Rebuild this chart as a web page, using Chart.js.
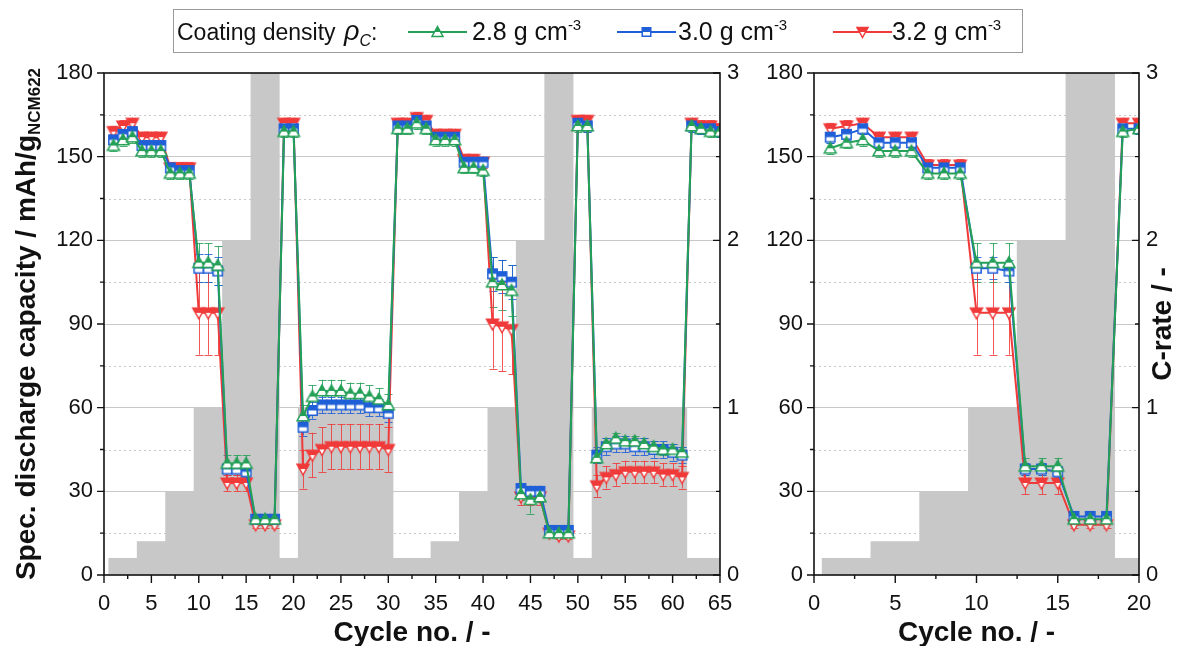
<!DOCTYPE html>
<html><head><meta charset="utf-8">
<script src="https://cdn.jsdelivr.net/npm/chart.js@4.4.0/dist/chart.umd.min.js"></script>
<style>
html,body{margin:0;padding:0;background:#fff;}
body{width:1177px;height:646px;position:relative;overflow:hidden;font-family:"Liberation Sans",Arial,sans-serif;color:#111;}
#c1{position:absolute;left:0;top:0;}
#c2{position:absolute;left:750px;top:0;}
#lgbox{position:absolute;left:173px;top:9px;width:850px;height:44px;border:1px solid #9a9a9a;box-sizing:border-box;}
.lt{position:absolute;top:19px;font-size:25px;line-height:25px;white-space:nowrap;}
.lt.first{font-size:23px;line-height:23px;top:20px;}
.lt sup{font-size:15px;vertical-align:10px;line-height:0;}
.lt sub{font-size:16px;vertical-align:-6px;line-height:0;}
.lt i.rho{font-size:27px;margin-left:2px;}
canvas.mk{position:absolute;top:24px;}
</style></head>
<body>
<canvas id="c1" width="750" height="646"></canvas>
<canvas id="c2" width="427" height="646"></canvas>
<div id="lgbox"></div>
<span class="lt first" style="left:177px">Coating density <i class="rho">ρ</i><sub><i>C</i></sub>:</span>
<canvas class="mk" id="mk1" width="59" height="16" style="left:408px"></canvas>
<span class="lt" style="left:472px">2.8 g cm<sup>-3</sup></span>
<canvas class="mk" id="mk2" width="59" height="16" style="left:617px"></canvas>
<span class="lt" style="left:678px">3.0 g cm<sup>-3</sup></span>
<canvas class="mk" id="mk3" width="59" height="16" style="left:833px"></canvas>
<span class="lt" style="left:892px">3.2 g cm<sup>-3</sup></span>
<script>
// ---------------- DATA ----------------
const seriesNames = ['2.8 g cm-3', '3.0 g cm-3', '3.2 g cm-3'];

const cyclesL = [1,2,3,4,5,6,7,8,9,10,11,12,13,14,15,16,17,18,19,20,21,22,23,24,25,26,27,28,29,30,
  31,32,33,34,35,36,37,38,39,40,41,42,43,44,45,46,47,48,49,50,51,52,53,54,55,56,57,58,59,60,61,62,63,64,65];
const crateL = [0.1,0.1,0.1, 0.2,0.2,0.2, 0.5,0.5,0.5, 1,1,1, 2,2,2, 3,3,3, 0.1,0.1, 1,1,1,1,1,1,1,1,1,1,
  0.1,0.1,0.1,0.1, 0.2,0.2,0.2, 0.5,0.5,0.5, 1,1,1, 2,2,2, 3,3,3, 0.1,0.1, 1,1,1,1,1,1,1,1,1,1, 0.1,0.1,0.1,0.1];
const capL28 = [154,156,157, 152,152,152, 144,144,144, 112,112,111, 40,40,40, 20,20,20, 159,159,
  57,64,66,66,66,65,65,64,63,61, 160,160,162,160, 156,156,156, 146,146,145, 105,104,102, 29,27,28,
  15,15,15, 161,161, 42,47,49,48,48,47,46,45,45,44, 161,160,159,159];
const capL30 = [156,158,159, 154,154,154, 146,145,145, 110,110,109, 38,38,37, 20,20,20, 160,160,
  53,59,61,61,61,61,61,60,60,58, 161,161,163,161, 157,157,157, 148,148,148, 108,107,105, 31,30,30,
  16,16,16, 162,161, 43,46,47,47,46,46,45,45,44,43, 161,160,160,159];
const capL32 = [159,161,162, 157,157,157, 146,146,146, 94,94,94, 33,33,33, 18,18,18, 162,162,
  38,43,45,46,46,46,46,46,46,45, 162,162,164,163, 158,158,158, 149,149,148, 90,89,88, 28,28,28,
  15,14,14, 163,163, 32,35,36,37,37,37,37,36,36,35, 162,161,161,160];
const errL28 = [2,2,2, 2,2,2, 2,2,2, 7,7,7, 3,3,3, 1,1,1, 2,2, 4,4,4,4,4,4,4,4,4,4, 2,2,2,2, 2,2,2, 2,2,2,
  9,9,9, 2,5,2, 1,1,1, 2,2, 2,2,2,2,2,2,2,2,2,2, 2,2,2,2];
const errL30 = [2,2,2, 2,2,2, 2,2,2, 5,5,5, 2,2,2, 1,1,1, 2,2, 3,3,3,3,3,3,3,3,3,3, 2,2,2,2, 2,2,2, 2,2,2,
  6,6,6, 2,2,2, 1,1,1, 2,2, 3,3,3,3,3,3,3,3,3,3, 2,2,2,2];
const errL32 = [2,2,2, 2,2,2, 2,2,2, 15,15,15, 3,3,3, 1,1,1, 2,2, 7,8,8,8,8,8,8,8,8,8, 2,2,2,2, 2,2,2, 2,2,2,
  16,16,16, 3,3,3, 1,1,1, 2,2, 4,4,4,4,4,4,4,4,4,4, 2,2,2,2];

const cyclesR = [1,2,3,4,5,6,7,8,9,10,11,12,13,14,15,16,17,18,19,20];
const crateR = [0.1,0.1,0.1,0.2,0.2,0.2,0.5,0.5,0.5,1,1,1,2,2,2,3,3,3,0.1,0.1];
const capR28 = [153,155,156,152,152,152,144,144,144,112,112,112,39,39,39,20,20,20,159,160];
const capR30 = [157,158,160,155,155,155,146,146,146,110,110,109,38,38,37,21,21,21,160,160];
const capR32 = [160,161,162,157,157,157,147,147,147,94,94,94,33,33,33,18,18,18,162,162];
const errR28 = [2,2,2,2,2,2,2,2,2,7,7,7,3,3,3,1,1,1,2,2];
const errR30 = [2,2,2,2,2,2,2,2,2,4,4,4,2,2,2,1,1,1,2,2];
const errR32 = [2,2,2,2,2,2,2,2,2,15,15,15,4,4,4,1,1,1,2,2];

// ---------------- STYLE ----------------
const COL = {g:'#24a057', b:'#1f5fd8', r:'#f03a3a'};
const GREY = '#c8c8c8';
const FONT = "'Liberation Sans', Arial, sans-serif";
Chart.defaults.font.family = FONT;
Chart.defaults.color = '#111';

function drawMarkerShape(g, shape, color, cx, cy, size) {
  const r = size / 2;
  g.beginPath();
  if (shape === 'up') { g.moveTo(cx, cy - r); g.lineTo(cx + r, cy + r * 0.8); g.lineTo(cx - r, cy + r * 0.8); g.closePath(); }
  else if (shape === 'down') { g.moveTo(cx, cy + r); g.lineTo(cx + r, cy - r * 0.8); g.lineTo(cx - r, cy - r * 0.8); g.closePath(); }
  else { const h = r * 0.85; g.rect(cx - h, cy - h, 2 * h, 2 * h); }
  g.fillStyle = '#fff'; g.fill();
  g.save(); g.clip(); g.fillStyle = color; g.fillRect(cx - size, cy - size, 2 * size, size); g.restore();
  g.lineWidth = 1.5; g.strokeStyle = color; g.stroke();
}
function makeMarker(shape, color, size) {
  const c = document.createElement('canvas');
  const s = size + 4; c.width = s; c.height = s;
  drawMarkerShape(c.getContext('2d'), shape, color, s / 2, s / 2, size);
  return c;
}
const MK = {
  g: makeMarker('up', COL.g, 12),
  b: makeMarker('sq', COL.b, 11),
  r: makeMarker('down', COL.r, 12)
};
// legend icons
[['mk1','up',COL.g],['mk2','sq',COL.b],['mk3','down',COL.r]].forEach(([id, sh, c]) => {
  const cv = document.getElementById(id); const g = cv.getContext('2d');
  g.strokeStyle = c; g.lineWidth = 2; g.beginPath(); g.moveTo(0, 8); g.lineTo(59, 8); g.stroke();
  drawMarkerShape(g, sh, c, 29.5, 8, sh === 'sq' ? 10 : 11);
});

const framePlugin = {
  id: 'frame',
  beforeDatasetsDraw(chart) {
    const {ctx, chartArea: a, scales: {y}} = chart;
    ctx.save();
    ctx.strokeStyle = GREY; ctx.lineWidth = 1; ctx.setLineDash([2, 3]);
    for (let v = 15; v < 180; v += 30) {
      const py = Math.round(y.getPixelForValue(v)) + 0.5;
      ctx.beginPath(); ctx.moveTo(a.left, py); ctx.lineTo(a.right, py); ctx.stroke();
    }
    ctx.restore();
  },
  afterDatasetDraw(chart, args, opts) {
    if (args.index !== 0) return;
    const {ctx, chartArea: a, scales: {x, y}} = chart;
    ctx.save();
    ctx.beginPath(); ctx.rect(a.left, a.top, a.right - a.left, a.bottom - a.top); ctx.clip();
    ctx.lineWidth = 1;
    opts.errors.forEach((err, k) => {
      const ds = chart.data.datasets[k + 1];
      ctx.strokeStyle = ds.borderColor;
      ctx.globalAlpha = 0.85;
      ds.data.forEach((p, i) => {
        const px = Math.round(x.getPixelForValue(p.x)) + 0.5;
        const y1 = y.getPixelForValue(p.y - err[i]);
        const y2 = y.getPixelForValue(p.y + err[i]);
        ctx.beginPath();
        ctx.moveTo(px, y1); ctx.lineTo(px, y2);
        ctx.moveTo(px - 4, Math.round(y1) + 0.5); ctx.lineTo(px + 4, Math.round(y1) + 0.5);
        ctx.moveTo(px - 4, Math.round(y2) + 0.5); ctx.lineTo(px + 4, Math.round(y2) + 0.5);
        ctx.stroke();
      });
    });
    ctx.restore();
  },
  afterDraw(chart, args, opts) {
    const {ctx, chartArea: a, scales: {x, y, y1}} = chart;
    ctx.save();
    ctx.strokeStyle = '#111'; ctx.lineWidth = 1.6;
    ctx.strokeRect(a.left, a.top, a.right - a.left, a.bottom - a.top);
    ctx.lineWidth = 1.4;
    ctx.beginPath();
    for (let v = 0; v <= 180; v += 15) {
      const py = y.getPixelForValue(v); const L = v % 30 === 0 ? 7 : 4;
      ctx.moveTo(a.left, py); ctx.lineTo(a.left - L, py);
    }
    for (let v = 0; v <= 3; v += 0.5) {
      const py = y1.getPixelForValue(v); const L = Number.isInteger(v) ? 7 : 4;
      ctx.moveTo(a.right, py); ctx.lineTo(a.right - L, py);
    }
    for (let v = 0; v <= x.max; v += 2.5) {
      const px = x.getPixelForValue(v); const L = v % 5 === 0 ? 8 : 4;
      ctx.moveTo(px, a.bottom); ctx.lineTo(px, a.bottom + L);
    }
    ctx.stroke();
    // titles
    ctx.fillStyle = '#111';
    ctx.textAlign = 'center'; ctx.textBaseline = 'middle';
    ctx.font = 'bold 28px ' + FONT;
    ctx.fillText('Cycle no. / -', (a.left + a.right) / 2, 633);
    const cy = (a.top + a.bottom) / 2;
    if (opts.leftTitle) {
      const main = 'Spec. discharge capacity / mAh/g', sub = 'NCM622';
      ctx.font = 'bold 28px ' + FONT; const w1 = ctx.measureText(main).width;
      ctx.font = 'bold 17px ' + FONT; const w2 = ctx.measureText(sub).width;
      ctx.translate(25, cy); ctx.rotate(-Math.PI / 2);
      ctx.textAlign = 'left'; ctx.textBaseline = 'alphabetic';
      const x0 = -(w1 + w2) / 2;
      ctx.font = 'bold 28px ' + FONT; ctx.fillText(main, x0, 10);
      ctx.font = 'bold 17px ' + FONT; ctx.fillText(sub, x0 + w1, 15);
      ctx.setTransform(1, 0, 0, 1, 0, 0);
    }
    if (opts.rightTitle) {
      ctx.translate(opts.rightTitleX, cy); ctx.rotate(-Math.PI / 2);
      ctx.textAlign = 'center'; ctx.textBaseline = 'middle';
      ctx.font = 'bold 28px ' + FONT; ctx.fillText('C-rate / -', 0, 0);
      ctx.setTransform(1, 0, 0, 1, 0, 0);
    }
    ctx.restore();
  }
};

function lineDS(label, cycles, values, color, marker, order) {
  return {
    type: 'line', label, data: cycles.map((c, i) => ({x: c, y: values[i]})),
    borderColor: color, backgroundColor: color, borderWidth: 2, tension: 0,
    pointStyle: marker, pointRadius: 5, yAxisID: 'y', order
  };
}

function makeChart(id, cycles, crate, c28, c30, c32, e28, e30, e32, xmax, widths, titles) {
  return new Chart(document.getElementById(id), {
    type: 'line',
    data: {
      datasets: [
        {type: 'bar', label: 'C-rate', data: cycles.map((c, i) => ({x: c, y: crate[i]})), yAxisID: 'y1',
         backgroundColor: GREY, borderWidth: 0, barPercentage: 1, categoryPercentage: 1, grouped: false, order: 10},
        lineDS(seriesNames[0], cycles, c28, COL.g, MK.g, 1),
        lineDS(seriesNames[1], cycles, c30, COL.b, MK.b, 2),
        lineDS(seriesNames[2], cycles, c32, COL.r, MK.r, 3)
      ]
    },
    options: {
      responsive: false, animation: false, devicePixelRatio: 1,
      layout: {padding: {top: 73, left: 0, right: 0, bottom: 0}},
      plugins: {legend: {display: false}, tooltip: {enabled: false},
        frame: {errors: [e28, e30, e32], leftTitle: titles.left, rightTitle: titles.right, rightTitleX: titles.rx}},
      scales: {
        x: {type: 'linear', offset: false, min: 0, max: xmax, afterFit: s => { s.height = 71; },
            ticks: {stepSize: 5, font: {size: 22}, padding: 8, maxRotation: 0},
            grid: {display: false, offset: false}, border: {display: false}},
        y: {type: 'linear', position: 'left', min: 0, max: 180, afterFit: s => { s.width = widths[0]; },
            ticks: {stepSize: 30, font: {size: 22}, padding: 11},
            grid: {drawTicks: false, color: c => (c.tick.value === 0 || c.tick.value === 180) ? 'rgba(0,0,0,0)' : GREY, lineWidth: 1},
            border: {display: false}},
        y1: {type: 'linear', position: 'right', min: 0, max: 3, afterFit: s => { s.width = widths[1]; },
            ticks: {stepSize: 1, font: {size: 22}, padding: 7},
            grid: {drawOnChartArea: false, drawTicks: false}, border: {display: false}}
      }
    },
    plugins: [framePlugin]
  });
}

makeChart('c1', cyclesL, crateL, capL28, capL30, capL32, errL28, errL30, errL32, 65, [104, 30], {left: true, right: false});
makeChart('c2', cyclesR, crateR, capR28, capR30, capR32, errR28, errR30, errR32, 20, [64, 38], {left: false, right: true, rx: 413});
</script>
</body></html>
